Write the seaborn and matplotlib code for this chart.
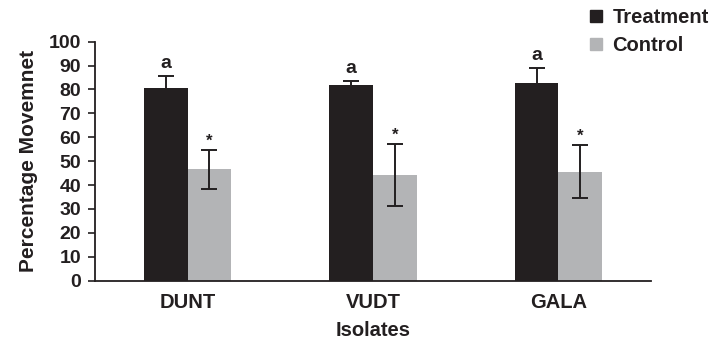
import matplotlib
matplotlib.use("Agg")
import matplotlib.pyplot as plt
import seaborn as sns
import pandas as pd
from matplotlib.lines import Line2D

# Data
isolates = ["DUNT", "VUDT", "GALA"]
groups = ["Treatment", "Control"]
treatment_mean = [80.5, 81.8, 82.8]
treatment_err = [5.3, 1.8, 6.2]
control_mean = [46.6, 44.3, 45.6]
control_err = [8.1, 13.0, 11.0]
treatment_marks = ["a", "a", "a"]
control_marks = ["*", "*", "*"]
y_ticks = list(range(0, 101, 10))

sns.set_theme(style="white")
plt.rcParams["font.family"] = ["Liberation Sans", "DejaVu Sans"]
plt.rcParams["font.weight"] = "bold"

INK = "#231f20"

df = pd.DataFrame({
    "Isolate": isolates * 2,
    "Group": [groups[0]] * 3 + [groups[1]] * 3,
    "Value": treatment_mean + control_mean,
    "Err": treatment_err + control_err,
    "Mark": treatment_marks + control_marks,
})

colors = {"Treatment": INK, "Control": "#b3b4b6"}

fig = plt.figure(figsize=(7.13, 3.47), dpi=100)
ax = fig.add_axes([0.1332, 0.191, 0.913 - 0.1332, 0.880 - 0.191])

sns.barplot(data=df, x="Isolate", y="Value", hue="Group", order=isolates,
            hue_order=groups, palette=colors, width=0.47, gap=0,
            errorbar=None, saturation=1, legend=False, ax=ax, linewidth=0)

# Error bars and significance marks at bar centres
for container, grp in zip(ax.containers, groups):
    sub = df[df["Group"] == grp].set_index("Isolate").loc[isolates]
    for patch, (_, row) in zip(container, sub.iterrows()):
        xc = patch.get_x() + patch.get_width() / 2
        ax.errorbar(xc, row["Value"], yerr=row["Err"], fmt="none",
                    ecolor=INK, elinewidth=1.4, capsize=5.5, capthick=1.4)
        top = row["Value"] + row["Err"]
        if row["Mark"] == "*":
            ax.text(xc, top + 0.6, row["Mark"], ha="center", va="bottom",
                    fontsize=12, fontweight="bold", color=INK)
        else:
            ax.text(xc, top + 1.5, row["Mark"], ha="center", va="bottom",
                    fontsize=14, fontweight="bold", color=INK)

ax.set_xlim(-0.5, 2.5)
ax.set_ylim(0, 100)
ax.set_yticks(y_ticks)
ax.set_yticklabels([str(t) for t in y_ticks], fontsize=14, fontweight="bold",
                   color=INK)
ax.set_xticks(range(len(isolates)))
ax.set_xticklabels(isolates, fontsize=14.5, fontweight="bold", color=INK)
ax.tick_params(axis="y", which="major", direction="out", length=5, width=1.2,
               color=INK, pad=5, left=True)
ax.tick_params(axis="x", length=0, pad=9)

for side in ["top", "right"]:
    ax.spines[side].set_visible(False)
for side in ["left", "bottom"]:
    ax.spines[side].set_color(INK)
    ax.spines[side].set_linewidth(1.3)

ax.set_ylabel("Percentage Movemnet", fontsize=15, fontweight="bold",
              color=INK, labelpad=8)
ax.set_xlabel("Isolates", fontsize=14.5, fontweight="bold", color=INK,
              labelpad=6)

handles = [Line2D([0], [0], marker="s", linestyle="none", markersize=8,
                  markerfacecolor=colors[g], markeredgecolor=colors[g])
           for g in groups]
fig.legend(handles, groups, loc="upper left", bbox_to_anchor=(0.797, 1.03),
           frameon=False, prop={"size": 14.5, "weight": "bold"},
           handletextpad=0.3, labelspacing=0.45, handlelength=1.0,
           labelcolor=INK)

fig.savefig("out.png", dpi=100, facecolor="white")
